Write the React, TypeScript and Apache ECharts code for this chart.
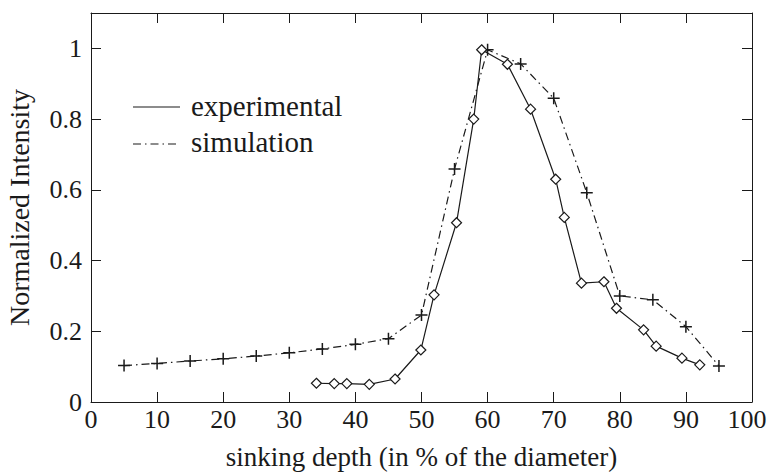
import React, { useEffect, useRef } from "react";
import * as echarts from "echarts";

const expX = [34.1, 36.8, 38.7, 42.1, 46.0, 49.9, 51.9, 55.3, 57.9, 59.1, 63.0, 66.5, 70.3, 71.6, 74.2, 77.6, 79.5, 83.6, 85.5, 89.4, 92.1];
const expY = [0.053, 0.052, 0.052, 0.05, 0.065, 0.147, 0.303, 0.507, 0.8, 0.996, 0.955, 0.828, 0.63, 0.522, 0.336, 0.34, 0.265, 0.204, 0.158, 0.124, 0.105];
const simX = [5, 10, 15, 20, 25, 30, 35, 40, 45, 50, 55, 60, 65, 70, 75, 80, 85, 90, 95];
const simY = [0.103, 0.109, 0.116, 0.122, 0.13, 0.139, 0.15, 0.163, 0.179, 0.246, 0.659, 0.996, 0.956, 0.859, 0.592, 0.3, 0.289, 0.213, 0.102];
const legendNames = ["experimental", "simulation"];
const xTitle = "sinking depth (in % of the diameter)";
const yTitle = "Normalized Intensity";

const FONT = "'Liberation Serif', 'Times New Roman', serif";
const INK = "#1a1a1a";

export default function App() {
  const ref = useRef<HTMLDivElement>(null);
  useEffect(() => {
    document.body.style.margin = "0";
    const chart = echarts.init(ref.current!, null, { renderer: "svg" });
    const tick = { show: true, inside: true, length: 10, lineStyle: { color: INK, width: 1 } };
    const plus = "path://M0,5L10,5M5,0L5,10";
    chart.setOption({
      animation: false,
      backgroundColor: "#fff",
      grid: { left: 91, right: 18, top: 13, bottom: 71, show: false, containLabel: false, outerBoundsMode: "none" },
      xAxis: [
        {
          type: "value", min: 0, max: 100, interval: 10, position: "bottom",
          axisLine: { show: true, lineStyle: { color: INK, width: 1 } },
          axisTick: tick, splitLine: { show: false },
          axisLabel: {
            color: INK, fontFamily: FONT, fontSize: 26, margin: 4, hideOverlap: false,
            formatter: (v: number) => (v >= 100 ? `{m|${v}}` : String(v)),
            rich: { m: { fontFamily: FONT, fontSize: 26, color: INK, padding: [0, 10, 0, 0] } },
          },
          name: xTitle, nameLocation: "middle", nameGap: 41,
          nameTextStyle: { color: INK, fontFamily: FONT, fontSize: 27 },
        },
        {
          type: "value", min: 0, max: 100, interval: 10, position: "top",
          axisLine: { show: true, onZero: false, lineStyle: { color: INK, width: 1 } },
          axisTick: tick, axisLabel: { show: false }, splitLine: { show: false },
        },
      ],
      yAxis: [
        {
          type: "value", min: 0, max: 1.1, interval: 0.2, position: "left",
          axisLine: { show: true, lineStyle: { color: INK, width: 1 } },
          axisTick: tick, splitLine: { show: false },
          axisLabel: {
            color: INK, fontFamily: FONT, fontSize: 26, margin: 9,
            formatter: (v: number) => (v > 1.05 ? "" : String(Math.round(v * 10) / 10)),
          },
          name: yTitle, nameLocation: "middle", nameGap: 58, nameRotate: 90,
          nameTextStyle: { color: INK, fontFamily: FONT, fontSize: 28 },
        },
        {
          type: "value", min: 0, max: 1.1, interval: 0.2, position: "right",
          axisLine: { show: true, onZero: false, lineStyle: { color: INK, width: 1 } },
          axisTick: tick, axisLabel: { show: false }, splitLine: { show: false },
        },
      ],
      series: [
        {
          name: legendNames[1], type: "line", xAxisIndex: 0, yAxisIndex: 0,
          data: simX.map((x, i) => [x, simY[i]]),
          symbol: plus, symbolSize: 12,
          itemStyle: { color: "none", borderColor: INK, borderWidth: 1.5 },
          lineStyle: { color: INK, width: 1.2, type: [8, 4, 1.5, 4] },
          z: 2,
        },
        {
          name: legendNames[0], type: "line", xAxisIndex: 0, yAxisIndex: 0,
          data: expX.map((x, i) => [x, expY[i]]),
          symbol: "diamond", symbolSize: 10,
          itemStyle: { color: "#fff", borderColor: INK, borderWidth: 1.2 },
          lineStyle: { color: INK, width: 1.2 },
          z: 3,
        },
      ],
      graphic: [
        { type: "line", shape: { x1: 133, y1: 107, x2: 180, y2: 107 }, style: { stroke: INK, lineWidth: 1.2 } },
        { type: "line", shape: { x1: 133, y1: 144, x2: 180, y2: 144 }, style: { stroke: INK, lineWidth: 1.2, lineDash: [8, 4, 1.5, 4] } },
        { type: "text", x: 191, y: 106, style: { text: legendNames[0], font: `29px ${FONT}`, fill: INK, textVerticalAlign: "middle" } },
        { type: "text", x: 191, y: 142, style: { text: legendNames[1], font: `29px ${FONT}`, fill: INK, textVerticalAlign: "middle" } },
      ],
    });
    return () => chart.dispose();
  }, []);
  return <div ref={ref} style={{ width: 770, height: 473 }} />;
}
